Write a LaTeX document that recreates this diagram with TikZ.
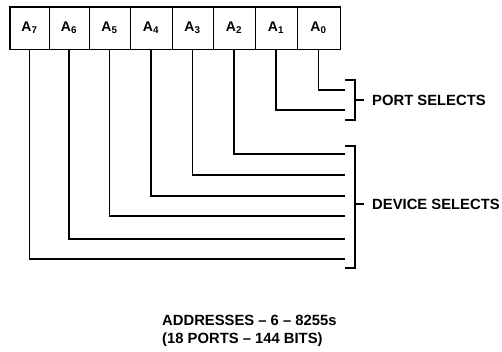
\documentclass[tikz,border=0pt]{standalone}
\usepackage{fontspec}
\setmainfont{Liberation Sans}
\begin{document}
\begin{tikzpicture}[x=1pt,y=-1pt,
  cell/.style={draw, line width=1pt, minimum height=42pt, inner sep=0pt, font=\bfseries\fontsize{14}{16}\selectfont},
  wire/.style={line width=1.1pt},
  brk/.style={line width=1.3pt},
  lbl/.style={anchor=west, inner sep=0pt, font=\bfseries\fontsize{14.8}{17}\selectfont}]
\useasboundingbox (0,0) rectangle (502,351);
\node[cell, minimum width=39pt] (c7) at (29.5,28) {A\textsubscript{7}};
\node[cell, minimum width=40pt] (c6) at (69,28) {A\textsubscript{6}};
\node[cell, minimum width=41pt] (c5) at (109.5,28) {A\textsubscript{5}};
\node[cell, minimum width=42pt] (c4) at (151,28) {A\textsubscript{4}};
\node[cell, minimum width=41pt] (c3) at (192.5,28) {A\textsubscript{3}};
\node[cell, minimum width=42pt] (c2) at (234,28) {A\textsubscript{2}};
\node[cell, minimum width=42pt] (c1) at (276,28) {A\textsubscript{1}};
\node[cell, minimum width=43pt] (c0) at (318.5,28) {A\textsubscript{0}};
\draw[line width=1.8pt] (c7.north west) rectangle (c0.south east);
% wire ends
\coordinate (e0) at (345,90);
\coordinate (e1) at (345,110);
\coordinate (e2) at (345,154);
\coordinate (e3) at (345,175);
\coordinate (e4) at (345,196);
\coordinate (e5) at (345,216);
\coordinate (e6) at (345,239);
\coordinate (e7) at (345,259);
\foreach \i in {0,...,7}{\draw[wire] (c\i.south) |- (e\i);}
% port bracket
\coordinate (pt) at (355,80);
\coordinate (pb) at (355,120);
\coordinate (pm) at (355,100);
\draw[brk] (345,80) -- (pt) -- (pb) -- (345,120);
\node[lbl] (port) at (372,100) {PORT SELECTS};
\draw[brk] (pm) -- ([xshift=-8pt]port.west);
% device bracket
\coordinate (dt) at (355,146);
\coordinate (db) at (355,268);
\coordinate (dm) at (355,204);
\draw[brk] (345,146) -- (dt) -- (db) -- (345,268);
\node[lbl] (dev) at (372,204) {DEVICE SELECTS};
\draw[brk] (dm) -- ([xshift=-8pt]dev.west);
% caption
\node[lbl] (cap1) at (162,320) {ADDRESSES -- 6 -- 8255s};
\node[lbl] (cap2) at (162,340) {(18 PORTS -- 144 BITS)};
\end{tikzpicture}
\end{document}
